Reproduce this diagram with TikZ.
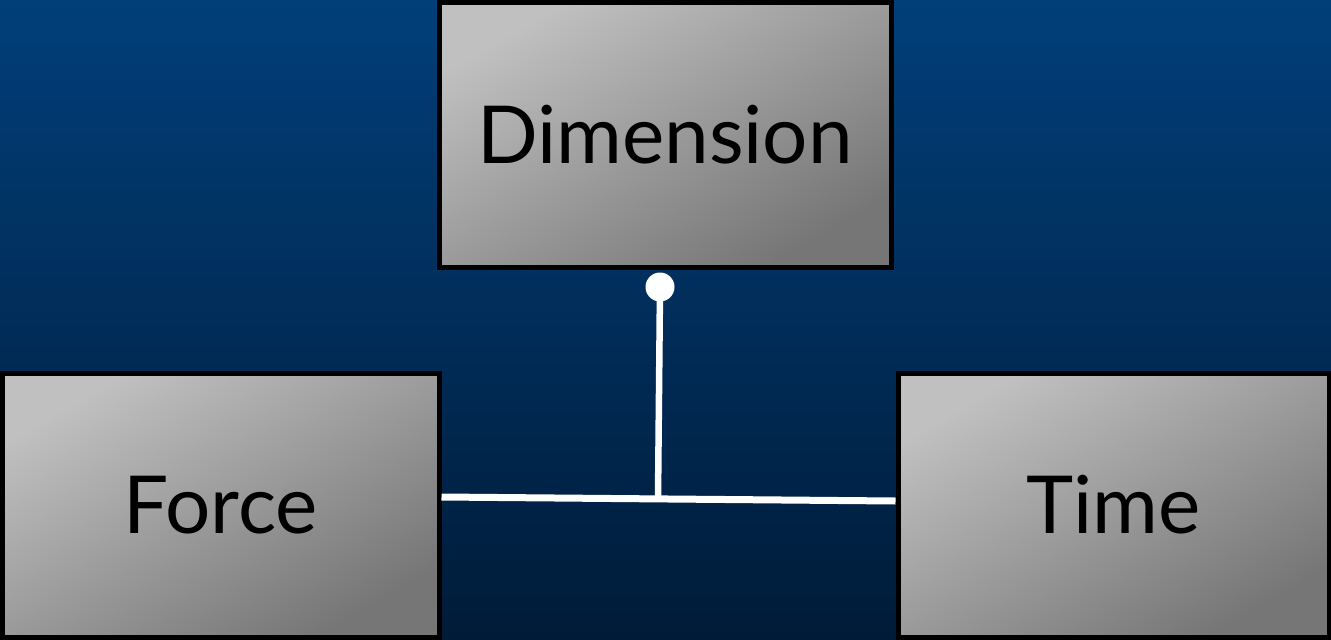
\documentclass[tikz,border=0pt]{standalone}
\usepackage{fontspec}
\setmainfont{Lato}
\usetikzlibrary{positioning}

\definecolor{bgtop}{RGB}{1,63,122}
\definecolor{bgbottom}{RGB}{0,27,56}
\definecolor{boxlight}{RGB}{192,192,192}
\definecolor{boxdark}{RGB}{118,118,118}

\tikzset{
    entity/.style={rectangle, draw=black, line width=5pt, inner sep=0pt,
        top color=boxlight, bottom color=boxdark, shading angle=30,
        font=\fontsize{80}{86}\selectfont},
    link/.style={draw=white, line width=7pt},
}

\begin{document}
\begin{tikzpicture}[x=1pt, y=-1pt]
    \useasboundingbox (0,0) rectangle (1331,640);
    \shade[top color=bgtop, bottom color=bgbottom] (0,0) rectangle (1331,640);

    \node[entity, minimum width=452pt, minimum height=265pt] (Dimension) at (665,134.5) {Dimension};
    \node[entity, minimum width=437pt, minimum height=264pt] (Force) at (220.5,505) {Force};
    \node[entity, minimum width=431pt, minimum height=264pt] (Time) at (1113.5,505) {Time};

    \coordinate (forceend) at ([yshift=8pt]Force.east);
    \coordinate (timeend) at ([yshift=4pt]Time.west);
    \coordinate (joint) at (658,499);
    \coordinate (dot) at (660,287);

    \draw[link] (forceend) -- (timeend);
    \draw[link, line width=6.5pt] (joint) -- (dot);
    \fill[white] (dot) circle (14.5pt);
\end{tikzpicture}
\end{document}
